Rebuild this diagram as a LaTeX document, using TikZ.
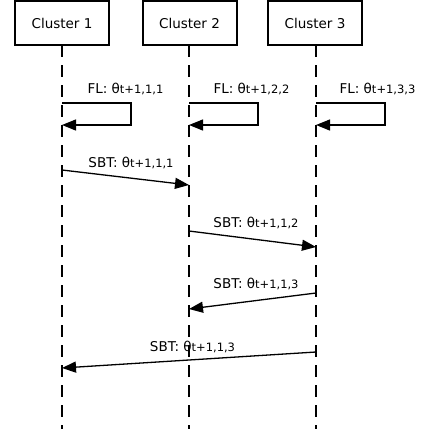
\documentclass[tikz,border=0pt]{standalone}
\usepackage{fontspec}
\setmainfont{DejaVu Sans}[Scale=1.35]
\newfontfamily\subfam{DejaVu Sans}[Scale=1.15]
\usetikzlibrary{arrows.meta}
\newcommand{\thsub}[1]{θ\raisebox{-0.5pt}{\subfam #1}}
\begin{document}
\begin{tikzpicture}[x=1pt,y=-1pt,
  clusterbox/.style={draw=black,line width=2pt,minimum width=94pt,minimum height=44pt,inner sep=0pt},
  lifeline/.style={draw=black,line width=1.3pt,dash pattern=on 12pt off 8pt},
  msg/.style={draw=black,line width=1.3pt,-{Triangle[length=14pt,width=11pt]}},
  lbl/.style={inner sep=0pt}]
\useasboundingbox (0,0) rectangle (425,429);
\fill[white] (0,0) rectangle (425,429);
% clusters
\node[clusterbox] (c1) at (62,23) {Cluster 1};
\node[clusterbox] (c2) at (189.5,23) {Cluster 2};
\node[clusterbox] (c3) at (315,23) {Cluster 3};
% lifelines
\coordinate (s1) at (62,45);  \coordinate (e1) at (62,429);
\coordinate (s2) at (189,45); \coordinate (e2) at (189,429);
\coordinate (s3) at (316,45); \coordinate (e3) at (316,429);
\draw[lifeline] (s1) -- (e1);
\draw[lifeline] (s2) -- (e2);
\draw[lifeline] (s3) -- (e3);
% FL self loops
\coordinate (f1a) at (62,103);  \coordinate (f1b) at (62,125);
\coordinate (f2a) at (189,103); \coordinate (f2b) at (189,125);
\coordinate (f3a) at (316,103); \coordinate (f3b) at (316,125);
\draw[msg] (f1a) -- ++(69,0) |- (f1b);
\draw[msg] (f2a) -- ++(69,0) |- (f2b);
\draw[msg] (f3a) -- ++(69,0) |- (f3b);
\node[lbl] (l1) at (125.5,89) {FL: \thsub{t+1,1,1}};
\node[lbl] (l2) at (251.5,89) {FL: \thsub{t+1,2,2}};
\node[lbl] (l3) at (377.5,89) {FL: \thsub{t+1,3,3}};
% SBT messages
\coordinate (a1) at (62,170);  \coordinate (b1) at (189,185);
\coordinate (a2) at (189,231); \coordinate (b2) at (316,247);
\coordinate (a3) at (316,293); \coordinate (b3) at (189,309);
\coordinate (a4) at (316,352); \coordinate (b4) at (62,368);
\draw[msg] (a1) -- (b1);
\draw[msg] (a2) -- (b2);
\draw[msg] (a3) -- (b3);
\draw[msg] (a4) -- (b4);
\node[lbl] (m1) at (131,163) {SBT: \thsub{t+1,1,1}};
\node[lbl] (m2) at (256,223) {SBT: \thsub{t+1,1,2}};
\node[lbl] (m3) at (256,284) {SBT: \thsub{t+1,1,3}};
\node[lbl] (m4) at (192.5,347) {SBT: \thsub{t+1,1,3}};
\end{tikzpicture}
\end{document}
